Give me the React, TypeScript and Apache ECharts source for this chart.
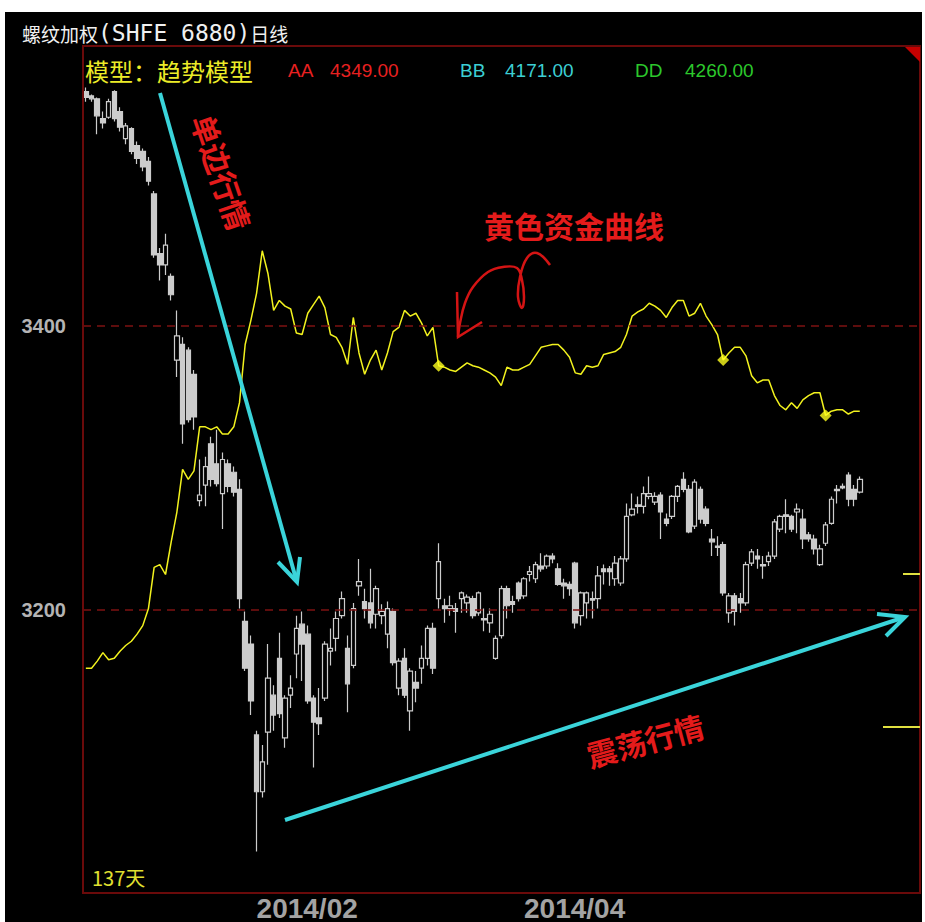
import React, { useEffect, useRef } from "react";
import * as echarts from "echarts";

// [open, close, low, high]
const candles: number[][] = [
  [3565, 3561, 3558, 3568], [3562, 3560, 3558, 3563], [3560, 3548, 3535, 3561], [3546, 3543, 3539, 3551],
  [3547, 3558, 3546, 3560], [3565, 3546, 3544, 3566], [3551, 3540, 3537, 3554], [3532, 3541, 3528, 3543],
  [3539, 3523, 3521, 3540], [3527, 3518, 3514, 3530], [3523, 3512, 3509, 3525], [3516, 3502, 3499, 3519],
  [3493, 3450, 3448, 3495], [3451, 3443, 3432, 3455], [3443, 3457, 3436, 3465], [3435, 3422, 3418, 3437],
  [3376, 3393, 3364, 3411], [3387, 3331, 3317, 3392], [3383, 3334, 3332, 3385], [3366, 3336, 3327, 3369],
  [3277, 3281, 3273, 3306], [3288, 3301, 3273, 3308], [3317, 3292, 3287, 3322], [3303, 3289, 3287, 3327],
  [3282, 3306, 3257, 3311], [3303, 3287, 3283, 3306], [3297, 3283, 3280, 3301], [3285, 3208, 3201, 3292],
  [3192, 3159, 3157, 3199], [3176, 3136, 3126, 3182], [3112, 3072, 3030, 3115], [3072, 3093, 3068, 3105],
  [3114, 3152, 3091, 3176], [3140, 3126, 3115, 3147], [3166, 3127, 3124, 3184], [3110, 3138, 3103, 3140],
  [3140, 3145, 3131, 3154], [3169, 3187, 3152, 3196], [3190, 3176, 3150, 3199], [3183, 3136, 3134, 3189],
  [3138, 3121, 3089, 3140], [3124, 3120, 3112, 3145], [3138, 3176, 3136, 3178], [3171, 3173, 3161, 3187],
  [3180, 3194, 3171, 3199], [3196, 3208, 3194, 3213], [3173, 3148, 3128, 3182], [3161, 3201, 3159, 3205],
  [3217, 3220, 3210, 3236], [3206, 3201, 3194, 3215], [3205, 3191, 3187, 3229], [3197, 3215, 3187, 3217],
  [3196, 3199, 3190, 3204], [3183, 3201, 3173, 3206], [3199, 3163, 3161, 3201], [3145, 3164, 3140, 3166],
  [3166, 3140, 3138, 3173], [3129, 3157, 3115, 3159], [3149, 3145, 3135, 3157], [3159, 3166, 3148, 3175],
  [3166, 3187, 3161, 3189], [3187, 3159, 3155, 3191], [3208, 3234, 3201, 3247],
  [3203, 3201, 3191, 3208], [3201, 3203, 3196, 3210], [3201, 3199, 3184, 3205], [3208, 3212, 3198, 3213],
  [3205, 3209, 3198, 3211], [3208, 3196, 3194, 3210], [3198, 3212, 3196, 3213], [3194, 3193, 3185, 3201],
  [3191, 3197, 3184, 3201], [3166, 3180, 3165, 3182], [3182, 3215, 3180, 3217], [3215, 3203, 3194, 3217],
  [3206, 3204, 3198, 3210], [3219, 3208, 3206, 3220], [3210, 3222, 3208, 3223], [3225, 3227, 3220, 3231],
  [3222, 3232, 3219, 3234], [3231, 3229, 3227, 3240], [3231, 3238, 3229, 3239], [3238, 3236, 3233, 3240],
  [3229, 3218, 3217, 3233], [3219, 3217, 3208, 3222], [3218, 3215, 3210, 3220], [3233, 3191, 3187, 3234],
  [3196, 3212, 3189, 3213], [3205, 3212, 3194, 3213], [3208, 3207, 3194, 3213], [3208, 3224, 3201, 3231],
  [3229, 3227, 3218, 3232], [3229, 3227, 3217, 3231], [3222, 3233, 3217, 3238], [3219, 3236, 3217, 3238],
  [3236, 3266, 3234, 3275], [3267, 3271, 3266, 3282],
  [3274, 3273, 3268, 3280], [3273, 3282, 3268, 3287], [3280, 3282, 3278, 3294], [3276, 3280, 3274, 3283],
  [3281, 3269, 3250, 3283], [3264, 3261, 3259, 3268], [3266, 3280, 3264, 3281], [3280, 3287, 3276, 3288],
  [3292, 3285, 3283, 3297], [3285, 3255, 3254, 3288], [3259, 3290, 3257, 3292], [3285, 3264, 3261, 3287],
  [3271, 3261, 3259, 3273], [3250, 3248, 3238, 3257], [3245, 3244, 3238, 3252], [3246, 3212, 3210, 3248],
  [3198, 3210, 3191, 3212], [3210, 3199, 3189, 3212], [3208, 3205, 3198, 3212], [3205, 3232, 3203, 3234],
  [3233, 3241, 3231, 3243], [3238, 3236, 3229, 3243], [3232, 3231, 3222, 3238], [3234, 3238, 3231, 3241],
  [3238, 3262, 3236, 3264], [3257, 3266, 3255, 3267], [3267, 3266, 3254, 3278], [3266, 3257, 3255, 3267],
  [3269, 3271, 3254, 3275], [3264, 3250, 3243, 3271], [3253, 3250, 3248, 3255], [3250, 3243, 3239, 3253],
  [3232, 3243, 3231, 3246], [3247, 3260, 3245, 3262], [3261, 3278, 3260, 3280], [3285, 3284, 3275, 3288],
  [3287, 3286, 3285, 3289], [3295, 3278, 3273, 3297], [3285, 3278, 3273, 3288], [3283, 3292, 3282, 3294],
];

// yellow capital curve
const fundLine: number[] = [
  3159, 3159, 3164, 3170, 3165, 3166, 3171, 3175, 3178, 3183,
  3189, 3201, 3230, 3232, 3225, 3248, 3269, 3299, 3292, 3298,
  3329, 3329, 3327, 3329, 3324, 3324, 3329, 3346, 3387, 3404,
  3423, 3453, 3437, 3411, 3418, 3414, 3412, 3395, 3394, 3409,
  3415, 3421, 3413, 3394, 3392, 3385, 3373, 3406, 3381, 3366,
  3376, 3383, 3369, 3381, 3396, 3399, 3411, 3407, 3409, 3402,
  3393, 3399, 3372, 3371, 3369, 3368, 3371, 3374, 3372, 3371,
  3369, 3367, 3364, 3358, 3371, 3369, 3369, 3371, 3373, 3379,
  3385, 3386, 3387, 3387, 3383, 3378, 3367, 3366, 3372, 3371,
  3372, 3380, 3381, 3382, 3385, 3394, 3407, 3410, 3412, 3416,
  3414, 3411, 3406, 3413, 3418, 3418, 3407, 3409, 3416, 3407,
  3401, 3394, 3376, 3381, 3385, 3385, 3379, 3365, 3360, 3362,
  3362, 3351, 3344, 3341, 3346, 3342, 3348, 3351, 3353, 3353,
  3337, 3340, 3341, 3341, 3338, 3340, 3340,
];

const signalIdx: number[] = [62, 112, 130];
const axisSlots = 147;
const monthLabels: Record<number, string> = { 30: "2014/02", 77: "2014/04" };
const yTickLabels: number[] = [3200, 3400];

const modelText = "模型：趋势模型";
const legendNames = ["AA", "BB", "DD"];
const legendValues = ["4349.00", "4171.00", "4260.00"];
const dayCount = "137天";

export default function App() {
  const ref = useRef<HTMLDivElement>(null);
  useEffect(() => {
    if (!ref.current) return;
    const chart = echarts.init(ref.current, null, { renderer: "svg" });
    const categories = Array.from({ length: axisSlots }, (_, i) => String(i + 1));
    const cyan = "#3ad4da";
    const red = "#e41b1b";
    const legendColors = ["#e82020", "#3ccfd4", "#2cc82c"];
    const legendX = [[288, 330], [460, 505], [635, 685]];

    const txt = (text: string, x: number, y: number, font: string, fill: string, extra: any = {}) => ({
      type: "text",
      x,
      y,
      z: 100,
      rotation: extra.rotation || 0,
      style: {
        text,
        font,
        fill,
        align: extra.align || "left",
        textAlign: extra.align || "left",
        verticalAlign: "middle",
        textVerticalAlign: "middle",
      },
    });

    const graphics: any[] = [
      {
        type: "rect",
        z: 100,
        shape: { x: 83, y: 46, width: 837, height: 847 },
        style: { fill: "none", stroke: "#6a0a0a", lineWidth: 2 },
      },
      {
        type: "polygon",
        z: 100,
        shape: { points: [[905, 47], [920, 47], [920, 62]] },
        style: { fill: "#c40000" },
      },
      {
        type: "text",
        x: 22,
        y: 33,
        z: 100,
        style: {
          text: "{a|螺纹加权}{b|(SHFE 6880)}{a|日线}",
          fill: "#f0f0f0",
          verticalAlign: "middle",
          textVerticalAlign: "middle",
          rich: {
            a: { fontSize: 19, fontFamily: "Noto Sans CJK SC", fill: "#f0f0f0", color: "#f0f0f0" },
            b: { fontSize: 23, fontFamily: "DejaVu Sans Mono", fill: "#f0f0f0", color: "#f0f0f0" },
          },
        },
      },
      txt(modelText, 85, 70, '24px "Noto Sans CJK SC"', "#ecec28"),
      ...legendNames.flatMap((n, i) => [
        txt(n, legendX[i][0], 70, '19px "Liberation Sans"', legendColors[i]),
        txt(legendValues[i], legendX[i][1], 70, '19px "Liberation Sans"', legendColors[i]),
      ]),
      txt(dayCount, 92, 877, '20px "Noto Sans CJK SC"', "#e0e030"),
      // right-edge yellow ticks
      { type: "line", z: 100, shape: { x1: 903, y1: 574, x2: 920, y2: 574 }, style: { stroke: "#e0e040", lineWidth: 2 } },
      { type: "line", z: 100, shape: { x1: 883, y1: 727, x2: 920, y2: 727 }, style: { stroke: "#e0e040", lineWidth: 2 } },
      // cyan arrows
      { type: "line", z: 100, shape: { x1: 160, y1: 93, x2: 296, y2: 579 }, style: { stroke: cyan, lineWidth: 4 } },
      { type: "polyline", z: 100, shape: { points: [[278, 562], [297, 582], [300, 557]] }, style: { stroke: cyan, lineWidth: 4, fill: "none" } },
      { type: "line", z: 100, shape: { x1: 285, y1: 820, x2: 902, y2: 618 }, style: { stroke: cyan, lineWidth: 4 } },
      { type: "polyline", z: 100, shape: { points: [[877, 614], [905, 617], [886, 636]] }, style: { stroke: cyan, lineWidth: 4, fill: "none" } },
      // red annotations
      txt("单边行情", 222, 172, 'bold 30px "Noto Sans CJK SC"', red, { align: "center", rotation: -1.24 }),
      txt("黄色资金曲线", 574, 225, 'bold 30px "Noto Sans CJK SC"', red, { align: "center" }),
      txt("震荡行情", 645, 740, 'bold 30px "Noto Sans CJK SC"', red, { align: "center", rotation: 0.26 }),
      {
        type: "polyline",
        z: 100,
        shape: {
          points: [
            [550, 265], [537, 253], [527, 258], [520, 277], [518, 297], [522, 308], [524, 297],
            [522, 280], [517, 268], [503, 267], [488, 272], [473, 287], [465, 303], [460, 323], [458, 337],
          ],
          smooth: 0.4,
        },
        style: { stroke: "#d41414", lineWidth: 2.5, fill: "none" },
      },
      { type: "polyline", z: 100, shape: { points: [[457, 292], [458, 337], [482, 322]] }, style: { stroke: "#d41414", lineWidth: 2.5, fill: "none" } },
    ];

    chart.setOption({
      animation: false,
      backgroundColor: "transparent",
      grid: { left: 83, top: 42, width: 836.5, height: 858, containLabel: false },
      xAxis: {
        type: "category",
        data: categories,
        boundaryGap: true,
        axisLine: { show: false },
        axisTick: { show: false },
        splitLine: { show: false },
        axisLabel: {
          interval: 0,
          formatter: (_v: string, i: number) => monthLabels[i] ?? "",
          align: "left",
          verticalAlign: "top",
          margin: 0,
          fontSize: 28,
          fontWeight: "bold",
          fontFamily: "Liberation Sans",
          color: "#a3a3a3",
        },
      },
      yAxis: {
        type: "value",
        min: 3000,
        max: 3600,
        interval: 200,
        axisLine: { show: false },
        axisTick: { show: false },
        splitLine: { show: false },
        axisLabel: {
          margin: 17,
          fontSize: 20,
          fontWeight: "bold",
          fontFamily: "Liberation Sans",
          color: "#b4b4b4",
          formatter: (v: number) => (yTickLabels.includes(v) ? String(v) : ""),
        },
      },
      series: [
        {
          type: "candlestick",
          data: candles,
          barWidth: 5,
          itemStyle: {
            color: "#000000",
            color0: "#cccccc",
            borderColor: "#cccccc",
            borderColor0: "#cccccc",
            borderWidth: 1.2,
          },
          markLine: {
            silent: true,
            symbol: "none",
            label: { show: false },
            lineStyle: { color: "#7e1212", type: [8, 6], width: 1.5 },
            data: yTickLabels.map((v) => ({ yAxis: v })),
          },
          z: 2,
        },
        {
          type: "line",
          data: fundLine,
          showSymbol: false,
          lineStyle: { color: "#f2f21e", width: 1.5 },
          itemStyle: { color: "#f2f21e" },
          z: 3,
        },
        {
          type: "scatter",
          data: signalIdx.map((i) => [i, fundLine[i]]),
          symbol: "diamond",
          symbolSize: 12,
          itemStyle: { color: "#ffff1e" },
          z: 4,
        },
      ],
      graphic: { elements: graphics },
    });
    return () => chart.dispose();
  }, []);

  return (
    <div style={{ position: "fixed", left: 0, top: 0, width: 925, height: 922, background: "#ffffff" }}>
      <div style={{ position: "absolute", left: 5, top: 12, width: 917, height: 910, background: "#000000" }} />
      <div ref={ref} style={{ position: "absolute", left: 0, top: 0, width: 925, height: 922 }} />
    </div>
  );
}
